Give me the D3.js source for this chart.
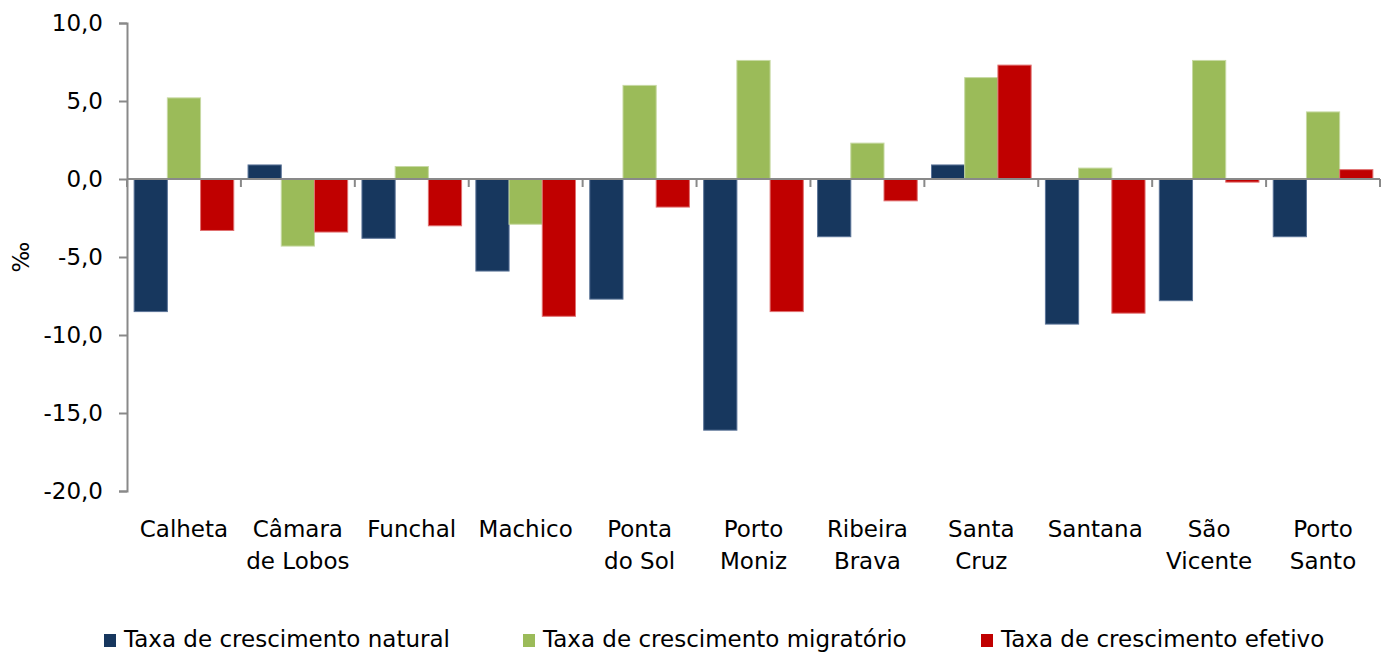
<!DOCTYPE html>
<html>
<head>
<meta charset="utf-8">
<script src="https://cdn.jsdelivr.net/npm/d3@7"></script>
<style>
  html, body { margin: 0; padding: 0; background: #fff; }
  svg { display: block; font-family: "DejaVu Sans", Verdana, sans-serif; }
</style>
</head>
<body>
<svg id="chart" width="1389" height="655"></svg>
<script>
const categories = ["Calheta", "Câmara\nde Lobos", "Funchal", "Machico", "Ponta\ndo Sol", "Porto\nMoniz", "Ribeira\nBrava", "Santa\nCruz", "Santana", "São\nVicente", "Porto\nSanto"];
const seriesNames = ["Taxa de crescimento natural", "Taxa de crescimento migratório", "Taxa de crescimento efetivo"];
const natural    = [-8.5,  0.9, -3.8, -5.9, -7.7, -16.1, -3.7, 0.9, -9.3, -7.8, -3.7];
const migratorio = [ 5.2, -4.3,  0.8, -2.9,  6.0,   7.6,  2.3, 6.5,  0.7,  7.6,  4.3];
const efetivo    = [-3.3, -3.4, -3.0, -8.8, -1.8,  -8.5, -1.4, 7.3, -8.6, -0.2,  0.6];
const yTicks = [10, 5, 0, -5, -10, -15, -20];
const colors = ["#17375E", "#9BBB59", "#C00000"];
const strokes = ["#5a7397", "#c7d9a3", "#e07070"];

(function () {
const seriesValues = [natural, migratorio, efetivo];
const svg = d3.select("#chart");
const fontSize = 23;
const axisColor = "#898989";

const mLeft = 127, mRight = 1380, mTop = 23, mBottom = 491;
const y = d3.scaleLinear().domain([-20, 10]).range([mBottom, mTop]);
const x0 = d3.scaleBand().domain(categories).range([mLeft, mRight]).padding(0);
const x1 = d3.scaleBand().domain(seriesNames).range([0, x0.bandwidth()]).paddingInner(0).paddingOuter(0.215);

// Bars
categories.forEach((c, ci) => {
  seriesNames.forEach((s, si) => {
    const v = seriesValues[si][ci];
    svg.append("rect")
      .attr("x", x0(c) + x1(s))
      .attr("y", y(Math.max(0, v)))
      .attr("width", x1.bandwidth())
      .attr("height", Math.abs(y(v) - y(0)))
      .attr("fill", colors[si])
      .attr("stroke", strokes[si])
      .attr("stroke-width", 1);
  });
});

// Y axis
const yAxis = d3.axisLeft(y).tickValues(yTicks).tickSize(8).tickPadding(16)
  .tickFormat(d => d3.format(".1f")(d).replace(".", ",").replace("−", "-"));
const gy = svg.append("g").attr("transform", `translate(${mLeft},0)`).call(yAxis);
gy.select(".domain").attr("stroke", axisColor).attr("stroke-width", 2);
gy.selectAll(".tick line").attr("stroke", axisColor).attr("stroke-width", 2);
gy.selectAll(".tick text").attr("font-size", fontSize).attr("fill", "#000")
  .attr("font-family", "DejaVu Sans, Verdana, sans-serif");

// X axis (at zero) with ticks at category boundaries
const zeroY = y(0);
svg.append("line").attr("x1", mLeft).attr("x2", mRight).attr("y1", zeroY).attr("y2", zeroY)
  .attr("stroke", axisColor).attr("stroke-width", 2);
const bounds = categories.map(c => x0(c)).concat([mRight]);
svg.selectAll(".xtick").data(bounds).enter().append("line")
  .attr("x1", d => d).attr("x2", d => d)
  .attr("y1", zeroY).attr("y2", zeroY + 8)
  .attr("stroke", axisColor).attr("stroke-width", 2);

// Category labels
categories.forEach(c => {
  const lines = c.split("\n");
  const cx = x0(c) + x0.bandwidth() / 2;
  const t = svg.append("text")
    .attr("x", cx)
    .attr("y", 537)
    .attr("text-anchor", "middle")
    .attr("font-size", fontSize)
    .attr("fill", "#000");
  lines.forEach((l, i) => {
    t.append("tspan").attr("x", cx).attr("dy", i === 0 ? 0 : 32).text(l);
  });
});

// Y axis title
svg.append("text")
  .attr("transform", "translate(29,257) rotate(-90)")
  .attr("text-anchor", "middle")
  .attr("font-size", fontSize)
  .attr("fill", "#000")
  .text("‰");

// Legend
const legendX = [104, 523, 981];
seriesNames.forEach((s, i) => {
  svg.append("rect").attr("x", legendX[i]).attr("y", 634).attr("width", 12).attr("height", 13)
    .attr("fill", colors[i]);
  svg.append("text").attr("x", legendX[i] + 20).attr("y", 647)
    .attr("font-size", fontSize).attr("fill", "#000").text(s);
});
})();
</script>
</body>
</html>
